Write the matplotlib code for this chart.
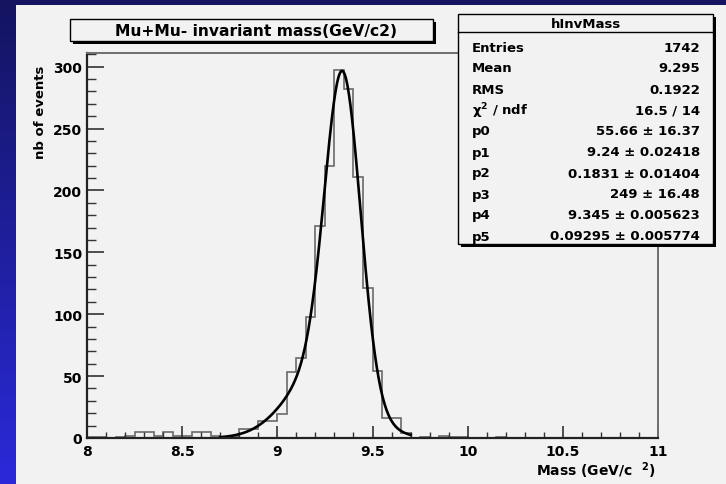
import matplotlib.pyplot as plt
import numpy as np
from matplotlib.patches import Rectangle
from matplotlib.ticker import MultipleLocator, FormatStrFormatter

W, H = 726, 485

# histogram contents, 60 bins of 0.05 GeV between 8 and 11
bin_lo = 8.0
bin_width = 0.05
counts = [
    1, 1, 0, 1, 2, 5, 5, 2, 5, 2,
    2, 5, 5, 2, 1, 1, 7, 7, 14, 14,
    19, 53, 65, 98, 171, 220, 297, 282, 211, 121,
    54, 16, 16, 4, 0, 1, 0, 2, 1, 1,
    0, 0, 0, 1, 0, 0, 0, 0, 0, 0,
    0, 0, 0, 0, 0, 0, 0, 0, 0, 0,
]

# fit: sum of two gaussians, parameters p0..p5, fit range
params = [55.66, 9.24, 0.1831, 249.0, 9.345, 0.09295]
fit_range = (8.7, 9.7)

stat_names = ["Entries", "Mean", "RMS", "$\\chi^{2}$ / ndf", "p0", "p1", "p2", "p3", "p4", "p5"]
stat_values = ["1742", "9.295", "0.1922", "16.5 / 14",
               "55.66 ± 16.37", "9.24 ± 0.02418", "0.1831 ± 0.01404",
               "249 ± 16.48", "9.345 ± 0.005623", "0.09295 ± 0.005774"]

hist_name = "hInvMass"
title = "Mu+Mu- invariant mass(GeV/c2)"
xlabel = "Mass (GeV/c  $^{2}$)"
ylabel = "nb of events"

plt.rcParams["font.family"] = ["DejaVu Sans"]
plt.rcParams["font.weight"] = "bold"
plt.rcParams["mathtext.fontset"] = "custom"
plt.rcParams["mathtext.rm"] = "DejaVu Sans:bold"
plt.rcParams["mathtext.it"] = "DejaVu Serif:italic"
plt.rcParams["mathtext.default"] = "rm"

CANVAS = "#f2f2f2"


def fx(x):
    return x / W


def fy(y):
    return 1 - y / H


def gauss2(x, p):
    return (p[0] * np.exp(-0.5 * ((x - p[1]) / p[2]) ** 2)
            + p[3] * np.exp(-0.5 * ((x - p[4]) / p[5]) ** 2))


fig = plt.figure(figsize=(W / 100, H / 100), dpi=100)

# blue slide background
bg = fig.add_axes([0, 0, 1, 1])
grad = np.linspace(0, 1, 256)[:, None]
top = np.array([20, 20, 96]) / 255
bot = np.array([42, 42, 218]) / 255
img = top + (bot - top) * grad[..., None]
bg.imshow(np.repeat(img, 2, axis=1), aspect="auto", extent=[0, 1, 0, 1])
bg.set_axis_off()
bg.set_zorder(-10)

# root canvas
fig.patches.append(Rectangle((fx(16), 0), 1 - fx(16), fy(6), transform=fig.transFigure,
                             facecolor=CANVAS, edgecolor="none", zorder=-5))

ax = fig.add_axes([fx(87), fy(439), fx(658) - fx(87), fy(54) - fy(439)])
ax.set_facecolor(CANVAS)

edges = bin_lo + bin_width * np.arange(len(counts) + 1)
ax.stairs(counts, edges, color="#6a6a6a", lw=1.2, baseline=0)

xf = np.linspace(fit_range[0], fit_range[1], 400)
ax.plot(xf, gauss2(xf, params), color="black", lw=1.9)

ax.set_xlim(8, 11)
ax.set_ylim(0, 311)

ax.xaxis.set_major_locator(MultipleLocator(0.5))
ax.xaxis.set_minor_locator(MultipleLocator(0.1))
ax.yaxis.set_major_locator(MultipleLocator(50))
ax.yaxis.set_minor_locator(MultipleLocator(10))
ax.xaxis.set_major_formatter(FormatStrFormatter("%g"))
ax.yaxis.set_major_formatter(FormatStrFormatter("%g"))

ax.tick_params(axis="x", which="major", direction="in", length=9, width=1.2, pad=4, labelsize=10)
ax.tick_params(axis="x", which="minor", direction="in", length=4.5, width=1.0)
ax.tick_params(axis="y", which="major", direction="in", length=12.5, width=1.2, pad=3.5, labelsize=10)
ax.tick_params(axis="y", which="minor", direction="in", length=6.5, width=1.0)
ax.tick_params(top=False, right=False, which="both", colors="#333333", labelcolor="black")

for s in ("left", "bottom"):
    ax.spines[s].set_linewidth(1.6)
    ax.spines[s].set_color("#222222")
for s in ("top", "right"):
    ax.spines[s].set_linewidth(1.4)
    ax.spines[s].set_color("#6f6f6f")

fig.text(fx(40), fy(66), ylabel, rotation=90, ha="center", va="top", fontsize=9.5)
fig.text(fx(656), fy(471), xlabel, ha="right", va="center", fontsize=10)


def shadow_box(x0, y0, x1, y1, off=3):
    fig.patches.append(Rectangle((fx(x0 + off), fy(y1 + off)), fx(x1 - x0), fy(y0) - fy(y1),
                                 transform=fig.transFigure, facecolor="black",
                                 edgecolor="none", zorder=5))
    fig.patches.append(Rectangle((fx(x0), fy(y1)), fx(x1 - x0), fy(y0) - fy(y1),
                                 transform=fig.transFigure, facecolor=CANVAS,
                                 edgecolor="black", lw=1.0, zorder=6))


# title box
shadow_box(70, 20, 433, 42)
fig.text(fx(256), fy(31.5), title, ha="center", va="center", fontsize=11.2, zorder=7)

# stats box
shadow_box(458, 15, 713, 245)
fig.lines.append(plt.Line2D([fx(458), fx(713)], [fy(33), fy(33)], transform=fig.transFigure,
                            color="black", lw=1.0, zorder=7))
fig.text(fx(586), fy(24.5), hist_name, ha="center", va="center", fontsize=9.5, zorder=7)
row_y = np.linspace(48, 237, len(stat_names))
for name, val, y in zip(stat_names, stat_values, row_y):
    fig.text(fx(472), fy(y), name, ha="left", va="center", fontsize=9.5, zorder=7)
    fig.text(fx(700), fy(y), val, ha="right", va="center", fontsize=9.5, zorder=7)

fig.savefig("out.png", dpi=100)
